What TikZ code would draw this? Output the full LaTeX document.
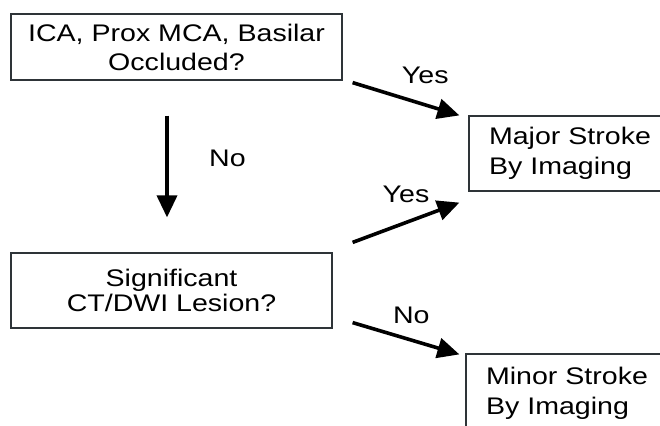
\documentclass[tikz,border=0pt]{standalone}
\usepackage{fontspec}
\setmainfont{Liberation Sans}[FakeStretch=1.19]
\usetikzlibrary{arrows.meta, positioning}
\definecolor{boxline}{HTML}{2E3438}
\tikzset{
	qbox/.style={draw=boxline, line width=1.2pt, align=center,
		font=\fontsize{24}{29}\selectfont, inner sep=0pt},
	rbox/.style={draw=boxline, line width=1.2pt, align=left,
		font=\fontsize{24}{30}\selectfont, inner xsep=20pt, text width=180pt},
	farr/.style={-{Triangle[length=22pt, width=20pt]}, line width=3.6pt},
	lbl/.style={font=\fontsize{24}{26}\selectfont}
}

\begin{document}
\begin{tikzpicture}[x=1pt, y=-1pt]
	\useasboundingbox (0,0) rectangle (660,425);
	\clip (0,0) rectangle (660,425);
	\node[qbox, minimum width=331pt, minimum height=66pt] (occl) at (176.5,47) {ICA, Prox MCA, Basilar\\Occluded?};
	\node[qbox, minimum width=321pt, minimum height=75pt, font=\fontsize{24}{25}\selectfont] (lesion) at (171.5,290.5) {Significant\\CT/DWI Lesion?};
	\node[rbox, minimum height=75pt] (major) at (579,153.5) {Major Stroke\\By Imaging};
	\node[rbox, minimum height=78pt] (minor) at (576,393) {Minor Stroke\\By Imaging};
	\draw[farr] ([shift={(10,2)}]occl.south east) -- node[lbl, pos=0.68, above=16pt] {Yes} ([shift={(-9,0)}]major.north west);
	\draw[farr] ([shift={(-9.5,35)}]occl.south) -- node[lbl, pos=0.42, right=37pt] {No} ([shift={(-4.5,-35)}]lesion.north);
	\draw[farr] ([shift={(20,-10)}]lesion.north east) -- node[lbl, midway, above=15pt] {Yes} ([shift={(-9,11)}]major.south west);
	\draw[farr] ([shift={(20,-6)}]lesion.south east) -- node[lbl, pos=0.55, above=11pt] {No} ([shift={(-6,1)}]minor.north west);
\end{tikzpicture}
\end{document}
